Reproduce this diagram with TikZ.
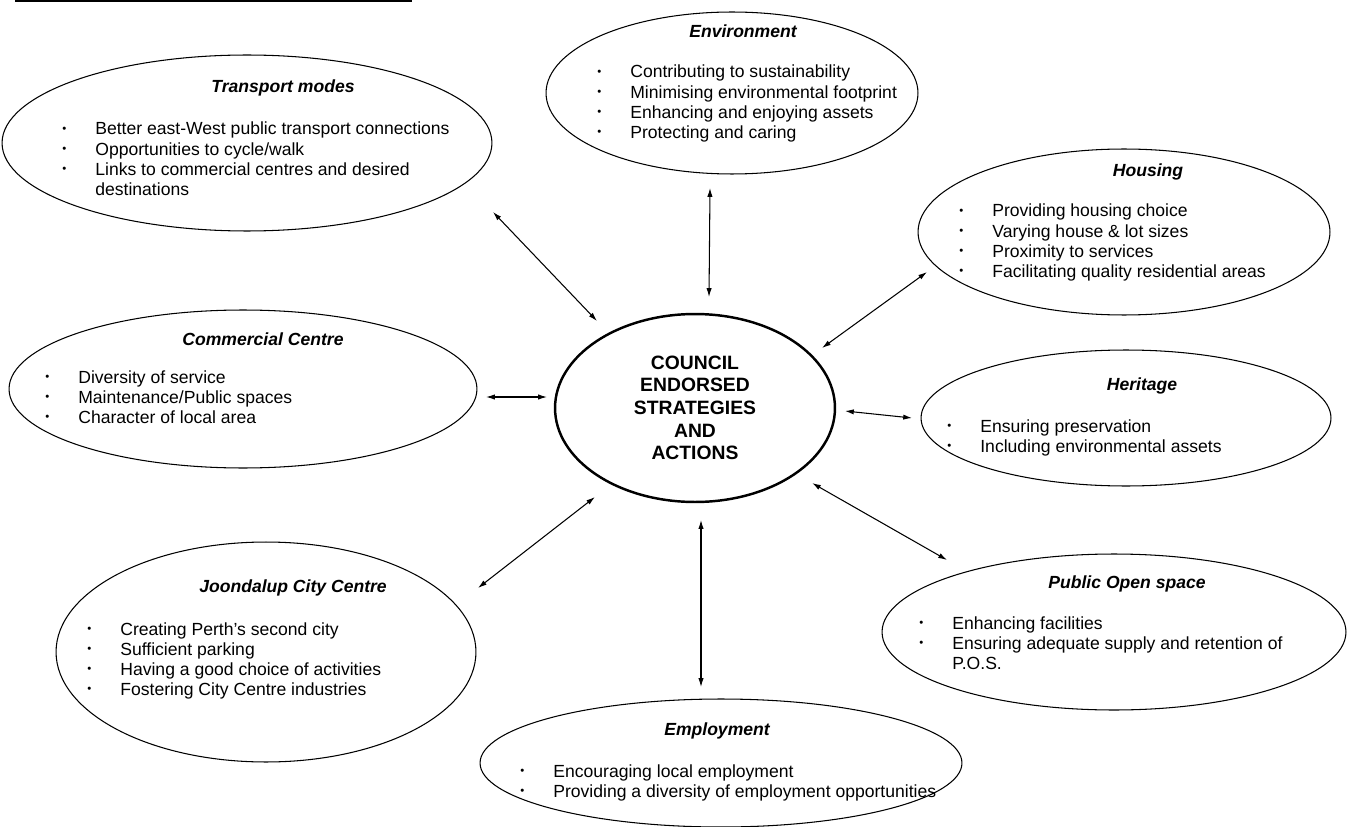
\documentclass[tikz,border=0pt]{standalone}
\usepackage{fontspec}
\setmainfont{Liberation Sans}
\usetikzlibrary{shapes.geometric,arrows.meta}
\newcommand{\blt}{\raisebox{1.2pt}{\fontsize{6.5}{6.5}\selectfont\textbullet}}

\begin{document}
\begin{tikzpicture}[x=0.02cm, y=-0.02cm,
            bubble/.style={draw, ellipse, line width=0.6pt, inner sep=0pt},
            title/.style={font=\fontsize{10}{12}\selectfont\bfseries\itshape},
            items/.style={anchor=base west, inner sep=0pt, font=\fontsize{10}{11.4}\selectfont},
            link/.style={<->, >={Latex[length=5pt,width=3pt]}, line width=0.6pt}]
            \useasboundingbox (0,0) rectangle (1354,827);

            \draw[line width=1pt] (15,1) -- (412,1);

            % centre
            \node[bubble, line width=1.4pt, minimum width=5.6cm, minimum height=3.76cm, align=center,
                  font=\fontsize{11}{12.9}\selectfont\bfseries] (council) at (695,408)
                  {COUNCIL\\ENDORSED\\STRATEGIES\\AND\\ACTIONS};

            % transport modes
            \node[bubble, minimum width=9.8cm, minimum height=3.52cm] (transport) at (247,143) {};
            \node[title] (transport-t) at (283,88) {Transport modes};
            \node[items] (transport-l) at (62,135) {\begin{tabular}[t]{@{}p{0.66cm}@{}l@{}}
                \blt & Better east-West public transport connections\\
                \blt & Opportunities to cycle/walk\\
                \blt & Links to commercial centres and desired\\
                     & destinations
            \end{tabular}};

            % environment
            \node[bubble, minimum width=7.44cm, minimum height=3.24cm] (env) at (732,93) {};
            \node[title] (env-t) at (743,31) {Environment};
            \node[items] (env-l) at (597,78) {\begin{tabular}[t]{@{}p{0.66cm}@{}l@{}}
                \blt & Contributing to sustainability\\
                \blt & Minimising environmental footprint\\
                \blt & Enhancing and enjoying assets\\
                \blt & Protecting and caring
            \end{tabular}};

            % housing
            \node[bubble, minimum width=8.24cm, minimum height=3.32cm] (housing) at (1124,232) {};
            \node[title] (housing-t) at (1148,172) {Housing};
            \node[items] (housing-l) at (959,217) {\begin{tabular}[t]{@{}p{0.66cm}@{}l@{}}
                \blt & Providing housing choice\\
                \blt & Varying house \& lot sizes\\
                \blt & Proximity to services\\
                \blt & Facilitating quality residential areas
            \end{tabular}};

            % commercial centre
            \node[bubble, minimum width=9.36cm, minimum height=3.16cm] (commercial) at (243,389) {};
            \node[title] (commercial-t) at (263,339) {Commercial Centre};
            \node[items] (commercial-l) at (45,383) {\begin{tabular}[t]{@{}p{0.66cm}@{}l@{}}
                \blt & Diversity of service\\
                \blt & Maintenance/Public spaces\\
                \blt & Character of local area
            \end{tabular}};

            % heritage
            \node[bubble, minimum width=8.2cm, minimum height=2.72cm] (heritage) at (1126,418) {};
            \node[title] (heritage-t) at (1142,386) {Heritage};
            \node[items] (heritage-l) at (947,432) {\begin{tabular}[t]{@{}p{0.66cm}@{}l@{}}
                \blt & Ensuring preservation\\
                \blt & Including environmental assets
            \end{tabular}};

            % joondalup city centre
            \node[bubble, minimum width=8.4cm, minimum height=4.4cm] (joondalup) at (266,652) {};
            \node[title] (joondalup-t) at (293,588) {Joondalup City Centre};
            \node[items] (joondalup-l) at (87,635) {\begin{tabular}[t]{@{}p{0.66cm}@{}l@{}}
                \blt & Creating Perth's second city\\
                \blt & Sufficient parking\\
                \blt & Having a good choice of activities\\
                \blt & Fostering City Centre industries
            \end{tabular}};

            % public open space
            \node[bubble, minimum width=9.28cm, minimum height=3.12cm] (pos) at (1114,632) {};
            \node[title] (pos-t) at (1127,584) {Public Open space};
            \node[items] (pos-l) at (919,629) {\begin{tabular}[t]{@{}p{0.66cm}@{}l@{}}
                \blt & Enhancing facilities\\
                \blt & Ensuring adequate supply and retention of\\
                     & P.O.S.
            \end{tabular}};

            % employment
            \node[bubble, minimum width=9.64cm, minimum height=2.56cm] (employment) at (721,763) {};
            \node[title] (employment-t) at (717,731) {Employment};
            \node[items] (employment-l) at (520,777) {\begin{tabular}[t]{@{}p{0.66cm}@{}l@{}}
                \blt & Encouraging local employment\\
                \blt & Providing a diversity of employment opportunities
            \end{tabular}};

            % arrow ends
            \coordinate (transport-a) at (493,212);   \coordinate (council-tm) at (597,321);
            \coordinate (env-a) at (710,188);         \coordinate (council-env) at (709,297);
            \coordinate (housing-a) at (927,272);     \coordinate (council-hs) at (822,348);
            \coordinate (commercial-a) at (486,397);  \coordinate (council-cc) at (547,397);
            \coordinate (heritage-a) at (912,418);    \coordinate (council-her) at (845,411);
            \coordinate (joondalup-a) at (478,588);   \coordinate (council-jcc) at (595,497);
            \coordinate (employment-a) at (701,687);  \coordinate (council-emp) at (701,520);
            \coordinate (pos-a) at (947,560);         \coordinate (council-pos) at (812,483);

            \draw[link] (transport-a) -- (council-tm);
            \draw[link] (env-a) -- (council-env);
            \draw[link] (housing-a) -- (council-hs);
            \draw[link] (commercial-a) -- (council-cc);
            \draw[link] (heritage-a) -- (council-her);
            \draw[link] (joondalup-a) -- (council-jcc);
            \draw[link] (employment-a) -- (council-emp);
            \draw[link] (pos-a) -- (council-pos);
          \end{tikzpicture}
\end{document}
